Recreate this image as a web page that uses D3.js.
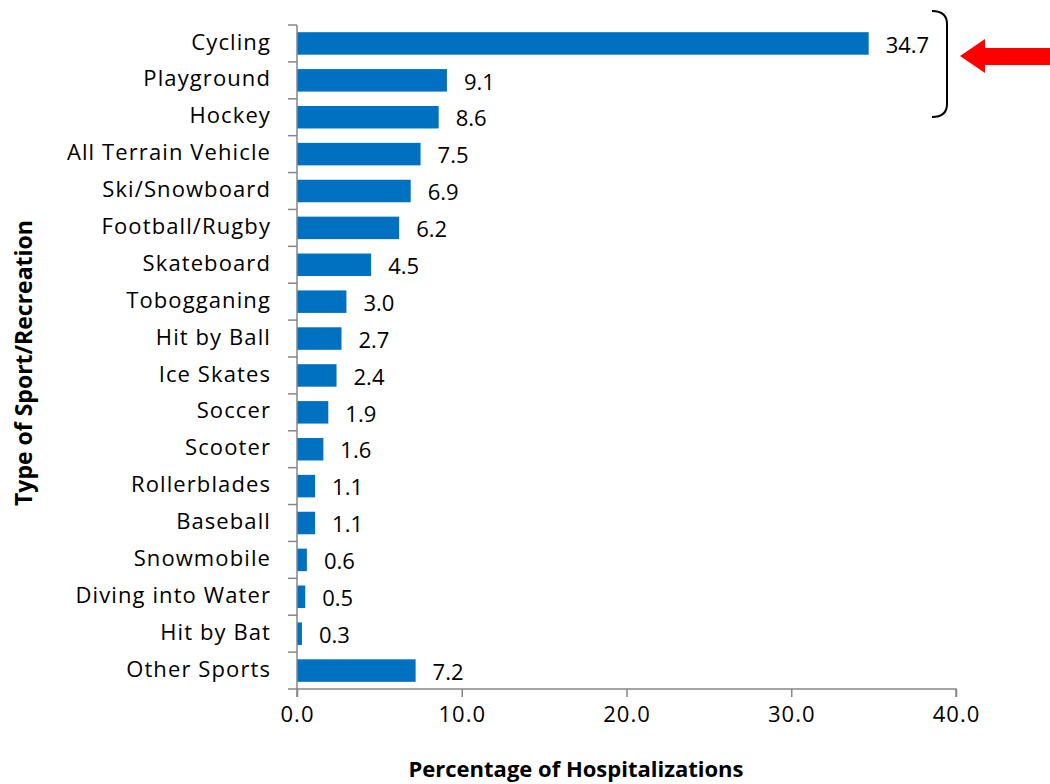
<!DOCTYPE html>
<html><head><meta charset="utf-8">
<script src="https://cdn.jsdelivr.net/npm/d3@7"></script>
<style>body{margin:0;background:#fff}</style>
</head><body>
<svg id="c" width="1050" height="784"></svg>
<script>
const categories = ["Cycling","Playground","Hockey","All Terrain Vehicle","Ski/Snowboard","Football/Rugby","Skateboard","Tobogganing","Hit by Ball","Ice Skates","Soccer","Scooter","Rollerblades","Baseball","Snowmobile","Diving into Water","Hit by Bat","Other Sports"];
const values = [34.7,9.1,8.6,7.5,6.9,6.2,4.5,3.0,2.7,2.4,1.9,1.6,1.1,1.1,0.6,0.5,0.3,7.2];
const xTicks = [0,10,20,30,40];
const xTitle = "Percentage of Hospitalizations";
const yTitle = "Type of Sport/Recreation";

const FONT = "'Open Sans', sans-serif";
const svg = d3.select("#c");
const L = 297, R = 956, T = 25, B = 689;
const x = d3.scaleLinear().domain([0,40]).range([L,R]);
const y = d3.scaleBand().domain(categories).range([T,B]).paddingInner(0.39).paddingOuter(0.195);

// bars
svg.append("g").selectAll("rect").data(categories).join("rect")
  .attr("x", x(0)).attr("y", d=>y(d))
  .attr("width", (d,i)=>x(values[i])-x(0)).attr("height", y.bandwidth())
  .attr("fill","#0070C0");

// value labels
svg.append("g").selectAll("text").data(categories).join("text")
  .attr("x",(d,i)=>x(values[i])+17).attr("y",d=>y(d)+y.bandwidth()/2)
  .attr("dy","0.42em").attr("font-family",FONT).attr("font-size",22).attr("fill","#000")
  .text((d,i)=>values[i].toFixed(1));

// y axis
const ya = d3.scaleLinear().domain([0,categories.length]).range([T,B]);
const yAxis = svg.append("g").attr("transform",`translate(${L},0)`);
yAxis.append("line").attr("x1",0).attr("x2",0).attr("y1",T).attr("y2",B).attr("stroke","#868686").attr("stroke-width",1.5);
yAxis.selectAll("line.t").data(d3.range(categories.length+1)).join("line").attr("class","t")
  .attr("x1",-9).attr("x2",0).attr("y1",d=>ya(d)).attr("y2",d=>ya(d)).attr("stroke","#868686").attr("stroke-width",1.5);
svg.append("g").selectAll("text").data(categories).join("text")
  .attr("x",271).attr("y",d=>y(d)+y.bandwidth()/2).attr("dy","0.28em")
  .attr("text-anchor","end").attr("font-family",FONT).attr("font-size",22)
  .attr("letter-spacing","1.1px").attr("fill","#000").text(d=>d);

// x axis
const xAxis = d3.axisBottom(x).tickValues(xTicks).tickSize(8).tickFormat(d=>d.toFixed(1)).tickPadding(9);
const gx = svg.append("g").attr("transform",`translate(0,${B})`).call(xAxis);
gx.select(".domain").attr("stroke","#868686").attr("stroke-width",1.5).attr("d",`M${L},8V0H${R}V8`);
gx.selectAll(".tick line").attr("stroke","#868686").attr("stroke-width",1.5);
gx.selectAll(".tick text").attr("font-family",FONT).attr("font-size",22).attr("letter-spacing","1px").attr("fill","#000");

// titles
svg.append("text").attr("x",576).attr("y",777).attr("text-anchor","middle")
  .attr("font-family",FONT).attr("font-weight","bold").attr("font-size",22).text(xTitle);
svg.append("text").attr("transform","translate(32,363) rotate(-90)").attr("text-anchor","middle")
  .attr("font-family",FONT).attr("font-weight","bold").attr("font-size",23).text(yTitle);

// bracket
svg.append("path").attr("d","M932,11 Q947,11 947,24 L947,104 Q947,117 932,117")
  .attr("fill","none").attr("stroke","#000").attr("stroke-width",2);
// arrow
svg.append("path").attr("d","M960,56 L985,39 L985,48 L1050,48 L1050,65 L985,65 L985,73 Z").attr("fill","#FF0000");
</script>
</body></html>
